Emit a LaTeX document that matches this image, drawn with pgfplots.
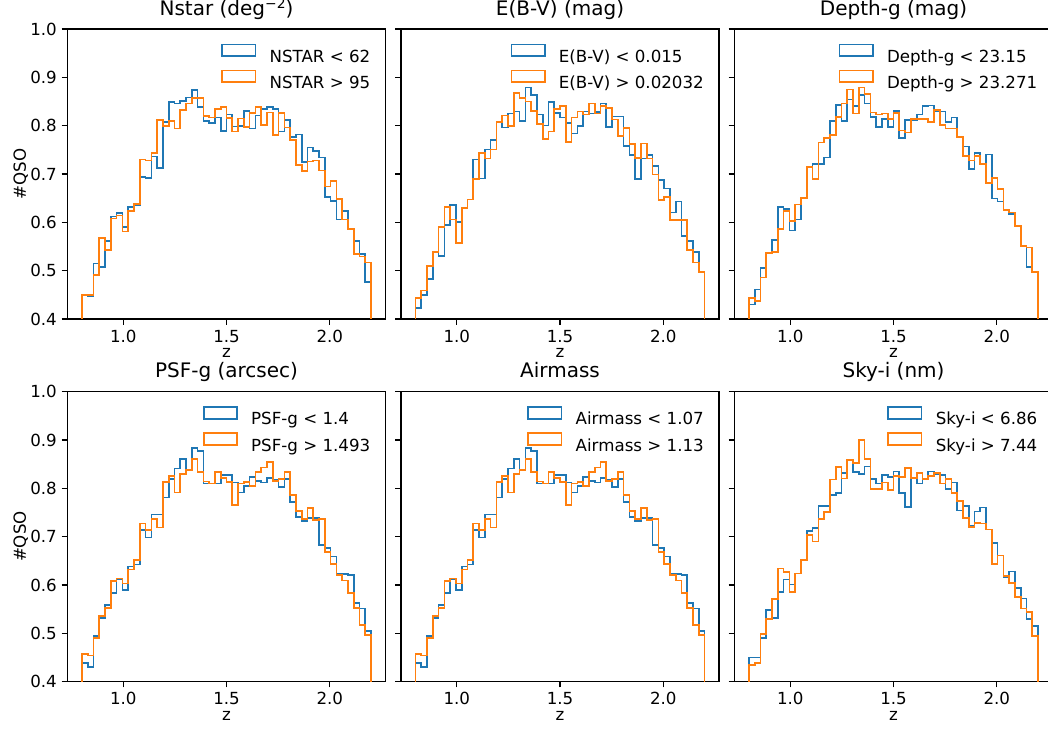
\documentclass[border=0pt]{standalone}
\usepackage{fontspec}
\setmainfont{DejaVu Sans}
\usepackage{pgfplots}
\usepackage{pgfplotstable}
\pgfplotsset{compat=1.18}
\definecolor{mblue}{RGB}{31,119,180}
\definecolor{morange}{RGB}{255,127,14}

% Nstar
\pgfplotstableread{
x lo hi
0.800 0 0
0.800 0.450 0.450
0.828 0.447 0.450
0.856 0.515 0.491
0.884 0.508 0.568
0.912 0.562 0.543
0.940 0.612 0.608
0.968 0.619 0.614
0.996 0.591 0.581
1.024 0.632 0.623
1.052 0.636 0.638
1.080 0.694 0.730
1.108 0.692 0.728
1.136 0.736 0.743
1.164 0.712 0.812
1.192 0.807 0.799
1.220 0.849 0.810
1.248 0.846 0.794
1.276 0.851 0.832
1.304 0.858 0.846
1.332 0.874 0.857
1.360 0.839 0.857
1.388 0.810 0.820
1.416 0.806 0.817
1.444 0.817 0.834
1.472 0.789 0.838
1.500 0.823 0.816
1.528 0.798 0.788
1.556 0.799 0.815
1.584 0.831 0.797
1.612 0.794 0.826
1.640 0.821 0.839
1.668 0.834 0.801
1.696 0.838 0.827
1.724 0.834 0.781
1.752 0.788 0.826
1.780 0.812 0.796
1.808 0.776 0.770
1.836 0.782 0.719
1.864 0.725 0.706
1.892 0.755 0.726
1.920 0.747 0.728
1.948 0.734 0.707
1.976 0.652 0.674
2.004 0.644 0.686
2.032 0.606 0.648
2.060 0.623 0.606
2.088 0.586 0.586
2.116 0.562 0.534
2.144 0.534 0.529
2.172 0.477 0.517
2.200 0.477 0.517
2.200 0 0
}\tabNstar

% E(B-V)
\pgfplotstableread{
x lo hi
0.800 0 0
0.800 0.423 0.443
0.828 0.450 0.459
0.856 0.483 0.509
0.884 0.539 0.539
0.912 0.530 0.590
0.940 0.595 0.632
0.968 0.636 0.606
0.996 0.601 0.557
1.024 0.630 0.630
1.052 0.647 0.647
1.080 0.730 0.689
1.108 0.691 0.743
1.136 0.751 0.732
1.164 0.770 0.751
1.192 0.808 0.808
1.220 0.796 0.821
1.248 0.825 0.799
1.276 0.829 0.868
1.304 0.810 0.857
1.332 0.879 0.850
1.360 0.863 0.831
1.388 0.823 0.803
1.416 0.800 0.773
1.444 0.849 0.788
1.472 0.826 0.834
1.500 0.817 0.841
1.528 0.805 0.766
1.556 0.784 0.817
1.584 0.799 0.829
1.612 0.829 0.823
1.640 0.825 0.846
1.668 0.828 0.825
1.696 0.846 0.841
1.724 0.797 0.837
1.752 0.819 0.813
1.780 0.819 0.779
1.808 0.758 0.795
1.836 0.739 0.762
1.864 0.690 0.733
1.892 0.732 0.763
1.920 0.739 0.732
1.948 0.716 0.699
1.976 0.688 0.646
2.004 0.670 0.653
2.032 0.620 0.605
2.060 0.643 0.605
2.088 0.572 0.605
2.116 0.562 0.543
2.144 0.539 0.517
2.172 0.497 0.497
2.200 0.497 0.497
2.200 0 0
}\tabEBV

% Depth-g
\pgfplotstableread{
x lo hi
0.800 0 0
0.800 0.430 0.443
0.828 0.461 0.437
0.856 0.505 0.486
0.884 0.536 0.536
0.912 0.564 0.538
0.940 0.632 0.586
0.968 0.627 0.623
0.996 0.583 0.603
1.024 0.606 0.637
1.052 0.651 0.651
1.080 0.714 0.714
1.108 0.721 0.690
1.136 0.721 0.765
1.164 0.734 0.774
1.192 0.809 0.781
1.220 0.843 0.818
1.248 0.810 0.846
1.276 0.854 0.875
1.304 0.841 0.825
1.332 0.863 0.879
1.360 0.846 0.866
1.388 0.818 0.827
1.416 0.797 0.823
1.444 0.814 0.825
1.472 0.797 0.814
1.500 0.831 0.826
1.528 0.774 0.790
1.556 0.812 0.786
1.584 0.811 0.814
1.612 0.823 0.814
1.640 0.841 0.814
1.668 0.842 0.807
1.696 0.831 0.832
1.724 0.829 0.801
1.752 0.808 0.794
1.780 0.817 0.794
1.808 0.777 0.777
1.836 0.757 0.737
1.864 0.710 0.728
1.892 0.743 0.737
1.920 0.720 0.720
1.948 0.740 0.681
1.976 0.649 0.692
2.004 0.643 0.669
2.032 0.625 0.625
2.060 0.617 0.620
2.088 0.593 0.593
2.116 0.551 0.551
2.144 0.508 0.548
2.172 0.497 0.497
2.200 0.497 0.497
2.200 0 0
}\tabDepth

% PSF-g
\pgfplotstableread{
x lo hi
0.800 0 0
0.800 0.439 0.457
0.828 0.430 0.454
0.856 0.494 0.490
0.884 0.531 0.536
0.912 0.558 0.552
0.940 0.583 0.608
0.968 0.612 0.613
0.996 0.590 0.603
1.024 0.638 0.632
1.052 0.642 0.652
1.080 0.713 0.727
1.108 0.698 0.714
1.136 0.746 0.736
1.164 0.746 0.719
1.192 0.781 0.813
1.220 0.819 0.826
1.248 0.841 0.791
1.276 0.861 0.830
1.304 0.837 0.838
1.332 0.883 0.861
1.360 0.877 0.834
1.388 0.810 0.814
1.416 0.810 0.810
1.444 0.810 0.834
1.472 0.827 0.821
1.500 0.828 0.813
1.528 0.812 0.765
1.556 0.791 0.810
1.584 0.805 0.813
1.612 0.823 0.805
1.640 0.815 0.834
1.668 0.812 0.843
1.696 0.821 0.854
1.724 0.817 0.815
1.752 0.803 0.819
1.780 0.819 0.833
1.808 0.772 0.786
1.836 0.741 0.753
1.864 0.732 0.737
1.892 0.739 0.759
1.920 0.739 0.734
1.948 0.683 0.736
1.976 0.677 0.668
2.004 0.659 0.643
2.032 0.623 0.621
2.060 0.623 0.609
2.088 0.621 0.584
2.116 0.562 0.552
2.144 0.551 0.517
2.172 0.504 0.497
2.200 0.504 0.497
2.200 0 0
}\tabPSF

% Airmass
\pgfplotstableread{
x lo hi
0.800 0 0
0.800 0.439 0.457
0.828 0.430 0.454
0.856 0.494 0.490
0.884 0.531 0.536
0.912 0.558 0.552
0.940 0.583 0.608
0.968 0.612 0.613
0.996 0.590 0.603
1.024 0.638 0.632
1.052 0.642 0.652
1.080 0.713 0.727
1.108 0.698 0.714
1.136 0.746 0.736
1.164 0.746 0.719
1.192 0.781 0.813
1.220 0.819 0.826
1.248 0.841 0.791
1.276 0.861 0.830
1.304 0.837 0.838
1.332 0.883 0.861
1.360 0.877 0.834
1.388 0.810 0.814
1.416 0.810 0.810
1.444 0.810 0.834
1.472 0.827 0.821
1.500 0.828 0.813
1.528 0.812 0.765
1.556 0.791 0.810
1.584 0.805 0.813
1.612 0.823 0.805
1.640 0.815 0.834
1.668 0.812 0.843
1.696 0.821 0.854
1.724 0.817 0.815
1.752 0.803 0.819
1.780 0.819 0.833
1.808 0.772 0.786
1.836 0.741 0.753
1.864 0.732 0.737
1.892 0.739 0.759
1.920 0.739 0.734
1.948 0.683 0.736
1.976 0.677 0.668
2.004 0.659 0.643
2.032 0.623 0.621
2.060 0.623 0.609
2.088 0.621 0.584
2.116 0.562 0.552
2.144 0.551 0.517
2.172 0.504 0.497
2.200 0.504 0.497
2.200 0 0
}\tabAir

% Sky-i
\pgfplotstableread{
x lo hi
0.800 0 0
0.800 0.450 0.434
0.828 0.450 0.438
0.856 0.490 0.499
0.884 0.548 0.529
0.912 0.531 0.571
0.940 0.586 0.634
0.968 0.611 0.627
0.996 0.601 0.586
1.024 0.624 0.624
1.052 0.652 0.652
1.080 0.712 0.704
1.108 0.718 0.690
1.136 0.763 0.737
1.164 0.763 0.751
1.192 0.786 0.818
1.220 0.790 0.844
1.248 0.831 0.820
1.276 0.859 0.859
1.304 0.833 0.852
1.332 0.830 0.900
1.360 0.845 0.860
1.388 0.819 0.799
1.416 0.810 0.799
1.444 0.827 0.812
1.472 0.823 0.796
1.500 0.835 0.826
1.528 0.790 0.823
1.556 0.761 0.842
1.584 0.821 0.821
1.612 0.810 0.832
1.640 0.819 0.819
1.668 0.835 0.826
1.696 0.830 0.832
1.724 0.828 0.810
1.752 0.799 0.819
1.780 0.812 0.790
1.808 0.754 0.774
1.836 0.763 0.739
1.864 0.722 0.720
1.892 0.752 0.728
1.920 0.760 0.727
1.948 0.715 0.715
1.976 0.687 0.643
2.004 0.661 0.661
2.032 0.617 0.619
2.060 0.628 0.604
2.088 0.594 0.575
2.116 0.572 0.551
2.144 0.530 0.544
2.172 0.515 0.494
2.200 0.515 0.494
2.200 0 0
}\tabSky

\pgfplotsset{
  hpanel/.style={
    scale only axis, width=229pt, height=208.8pt,
    anchor=north west,
    xmin=0.73, xmax=2.27, ymin=0.4, ymax=1.0,
    xtick={1.0,1.5,2.0},
    ytick={0.4,0.5,0.6,0.7,0.8,0.9,1.0},
    xtick pos=left, ytick pos=left,
    tick align=outside, major tick length=4.2pt,
    every tick/.style={black, line width=0.96pt},
    axis line style={black, line width=0.96pt},
    /pgf/number format/assume math mode=true,
    /pgf/number format/fixed, /pgf/number format/fixed zerofill,
    /pgf/number format/precision=1,
    tick label style={font=\fontsize{12}{14}\selectfont, inner sep=0pt},
    xticklabel style={anchor=base, yshift=-12.5pt},
    yticklabel style={anchor=base east, xshift=-3.3pt, yshift=-4.4pt},
    title style={font=\fontsize{14.4}{17}\selectfont, at={(axis description cs:0.5,1)}, anchor=base, inner sep=0pt, yshift=4pt},
    xlabel={z},
    xlabel style={font=\fontsize{12}{14}\selectfont, at={(axis description cs:0.5,0)}, anchor=base, inner sep=0pt, yshift=-27.8pt},
    ylabel style={font=\fontsize{12}{14}\selectfont, at={([xshift=-30pt]axis description cs:0,0.5)}, anchor=base, inner sep=0pt},
    legend style={at={(1,1)}, anchor=north east, xshift=-11pt, yshift=-10.5pt,
      draw=none, fill=none, inner sep=0pt, outer sep=0pt, row sep=2.3pt,
      font=\fontsize{12}{14}\selectfont,
      nodes={inner sep=0pt, text height=12pt, text depth=3pt},
      /tikz/every odd column/.append style={column sep=9.6pt}},
    legend cell align=left,
    legend image code/.code={\draw[#1, fill=none] (0pt,0pt) rectangle (24pt,8.4pt);},
  },
  lo/.style={draw=mblue, line width=1.2pt, const plot, no markers},
  hi/.style={draw=morange, line width=1.2pt, const plot, no markers},
}

\begin{document}
\begin{tikzpicture}
% row 1
\begin{axis}[hpanel, at={(48.6pt,-20.88pt)}, ylabel={\#QSO},
  title={Nstar (deg\raisebox{4.6pt}{\fontsize{10}{12}\selectfont −2})}]
\addplot[lo] table[x=x, y=lo] {\tabNstar};
\addplot[hi] table[x=x, y=hi] {\tabNstar};
\legend{NSTAR < 62, NSTAR > 95}
\end{axis}
\begin{axis}[hpanel, at={(288.72pt,-20.88pt)}, yticklabels={},
  title={E(B-V) (mag)}]
\addplot[lo] table[x=x, y=lo] {\tabEBV};
\addplot[hi] table[x=x, y=hi] {\tabEBV};
\legend{E(B-V) < 0.015, E(B-V) > 0.02032}
\end{axis}
\begin{axis}[hpanel, at={(528.84pt,-20.88pt)}, yticklabels={},
  title={Depth-g (mag)}]
\addplot[lo] table[x=x, y=lo] {\tabDepth};
\addplot[hi] table[x=x, y=hi] {\tabDepth};
\legend{Depth-g < 23.15, Depth-g > 23.271}
\end{axis}
% row 2
\begin{axis}[hpanel, at={(48.6pt,-281.95pt)}, ylabel={\#QSO},
  title={PSF-g (arcsec)}]
\addplot[lo] table[x=x, y=lo] {\tabPSF};
\addplot[hi] table[x=x, y=hi] {\tabPSF};
\legend{PSF-g < 1.4, PSF-g > 1.493}
\end{axis}
\begin{axis}[hpanel, at={(288.72pt,-281.95pt)}, yticklabels={},
  title={Airmass}]
\addplot[lo] table[x=x, y=lo] {\tabAir};
\addplot[hi] table[x=x, y=hi] {\tabAir};
\legend{Airmass < 1.07, Airmass > 1.13}
\end{axis}
\begin{axis}[hpanel, at={(528.84pt,-281.95pt)}, yticklabels={},
  title={Sky-i (nm)}]
\addplot[lo] table[x=x, y=lo] {\tabSky};
\addplot[hi] table[x=x, y=hi] {\tabSky};
\legend{Sky-i < 6.86, Sky-i > 7.44}
\end{axis}
\pgfresetboundingbox
\path[use as bounding box] (0pt,0pt) rectangle (754.56pt,-524.88pt);
\end{tikzpicture}
\end{document}
